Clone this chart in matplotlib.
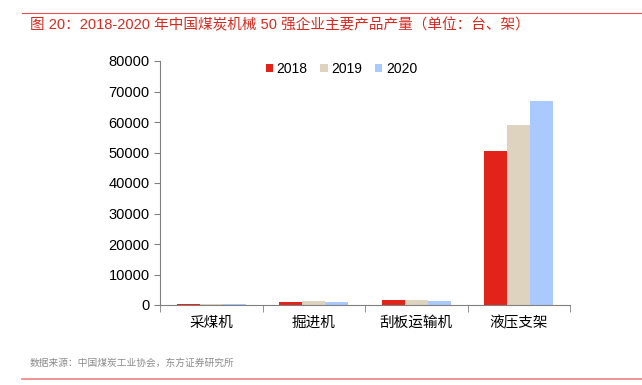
import matplotlib.pyplot as plt
import numpy as np

plt.rcParams['font.family'] = ['Liberation Sans', 'Noto Sans CJK SC', 'DejaVu Sans']

# 数据
categories = ["采煤机", "掘进机", "刮板运输机", "液压支架"]
years = ["2018", "2019", "2020"]
v2018 = [450, 1000, 1500, 50500]
v2019 = [330, 1300, 1700, 59000]
v2020 = [450, 1000, 1300, 67000]
colors = ["#E2231A", "#DDD3BE", "#A9C9FF"]

fig = plt.figure(figsize=(6.42, 3.85), dpi=100)
ax = fig.add_axes([160/642, 80/385, 410/642, 244/385])

x = np.arange(len(categories))
w = 0.225
for i, (vals, yr) in enumerate(zip([v2018, v2019, v2020], years)):
    ax.bar(x + (i - 1) * w, vals, width=w, color=colors[i], label=yr, zorder=2)

ax.set_xlim(-0.5, 3.5)
ax.set_ylim(0, 80000)
ax.set_yticks(range(0, 80001, 10000))
ax.tick_params(axis='y', labelsize=10.5, length=4, color='#808080', direction='out')
ax.set_xticks(x)
ax.set_xticklabels(categories, fontsize=10.5)
ax.tick_params(axis='x', length=0, pad=8)
ax.set_xticks(np.arange(-0.5, 4, 1), minor=True)
ax.tick_params(axis='x', which='minor', length=5, color='#808080')
for s in ['top', 'right']:
    ax.spines[s].set_visible(False)
for s in ['left', 'bottom']:
    ax.spines[s].set_color('#808080')

ax.legend(loc='upper left', bbox_to_anchor=(100/410, 1.018), ncol=3, frameon=False,
          fontsize=10, handlelength=0.55, handleheight=0.55, handletextpad=0.25,
          columnspacing=0.9, borderaxespad=0, borderpad=0.4)

# 标题和来源
fig.text(30/642, 1 - 25/385, "图 20：2018-2020 年中国煤炭机械 50 强企业主要产品产量（单位：台、架）",
         color='#D9281E', fontsize=10.5, va='center', ha='left', fontweight='medium')
fig.text(30/642, 1 - 363/385, "数据来源：中国煤炭工业协会，东方证券研究所",
         color='#8C8C8C', fontsize=7, va='center', ha='left')
fig.add_artist(plt.Line2D([22/642, 1], [1 - 13/385] * 2, color='#E8534A', lw=0.8))
fig.add_artist(plt.Line2D([22/642, 1], [1 - 379/385] * 2, color='#F08080', lw=1.2))

fig.savefig("out.png", dpi=100)
